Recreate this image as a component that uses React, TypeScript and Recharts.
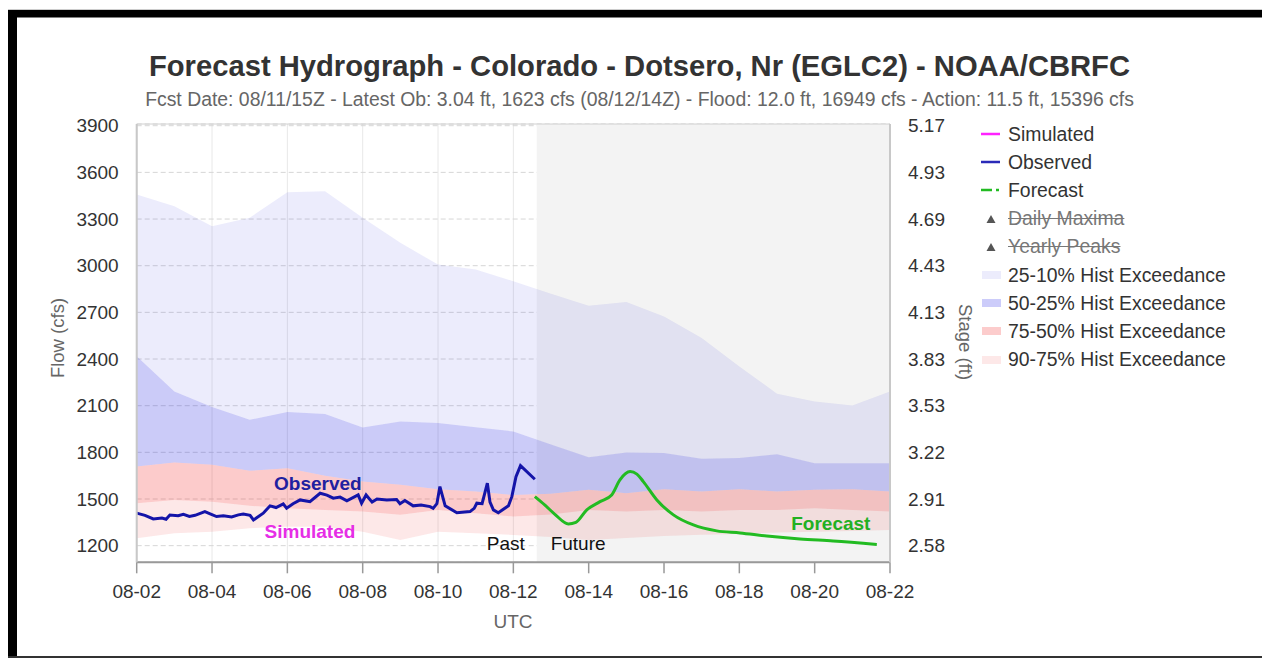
import React from 'react';
import {
  ComposedChart,
  Area,
  Line,
  XAxis,
  YAxis,
  CartesianGrid,
  ReferenceArea,
  ReferenceDot,
  Legend,
} from 'recharts';

// ---------- data ----------
const bandDays = [0, 1, 2, 3, 4, 5, 6, 7, 8, 9, 10, 11, 12, 13, 14, 15, 16, 17, 18, 19, 20];
const exc10 = [3458, 3382, 3254, 3308, 3473, 3479, 3308, 3147, 3007, 2975, 2900, 2820, 2743, 2767, 2674, 2535, 2352, 2177, 2127, 2101, 2191];
const exc25 = [2417, 2191, 2091, 2009, 2059, 2046, 1960, 1998, 1988, 1962, 1934, 1850, 1769, 1799, 1795, 1758, 1763, 1788, 1730, 1730, 1730];
const exc50 = [1709, 1734, 1720, 1681, 1698, 1649, 1612, 1591, 1563, 1548, 1526, 1533, 1559, 1537, 1563, 1548, 1563, 1548, 1559, 1563, 1548];
const exc75 = [1473, 1494, 1483, 1456, 1441, 1430, 1419, 1398, 1430, 1408, 1387, 1400, 1430, 1419, 1430, 1419, 1430, 1430, 1441, 1430, 1419];
const exc90 = [1248, 1280, 1290, 1312, 1322, 1322, 1290, 1237, 1290, 1280, 1269, 1255, 1237, 1250, 1262, 1270, 1275, 1285, 1290, 1295, 1301];

const obsDays = [0.0, 0.22, 0.44, 0.67, 0.78, 0.88, 1.1, 1.24, 1.4, 1.55, 1.81, 1.95, 2.12, 2.3, 2.52, 2.7, 2.83, 3.01, 3.1, 3.36, 3.54, 3.7, 3.89, 3.98, 4.15, 4.34, 4.6, 4.87, 5.05, 5.22, 5.4, 5.58, 5.88, 5.97, 6.09, 6.25, 6.38, 6.64, 6.9, 6.99, 7.12, 7.34, 7.55, 7.79, 7.87, 7.97, 8.05, 8.19, 8.5, 8.85, 8.96, 9.03, 9.17, 9.31, 9.38, 9.47, 9.6, 9.87, 9.96, 10.07, 10.19, 10.57];
const obsFlow = [1409, 1395, 1372, 1378, 1370, 1397, 1392, 1402, 1388, 1395, 1419, 1405, 1387, 1392, 1385, 1398, 1404, 1395, 1365, 1409, 1456, 1445, 1469, 1441, 1470, 1494, 1483, 1537, 1525, 1505, 1512, 1488, 1526, 1473, 1526, 1480, 1500, 1494, 1496, 1470, 1490, 1456, 1462, 1451, 1440, 1470, 1580, 1456, 1412, 1419, 1440, 1473, 1470, 1602, 1480, 1430, 1412, 1456, 1515, 1644, 1715, 1627];

const fcstDays = [10.57, 10.84, 11.11, 11.46, 11.66, 11.95, 12.3, 12.61, 12.83, 13.1, 13.28, 13.45, 13.81, 14.25, 14.78, 15.4, 16.02, 16.73, 17.61, 18.49, 19.65];
const fcstFlow = [1515, 1460, 1400, 1340, 1350, 1430, 1483, 1526, 1623, 1676, 1660, 1612, 1494, 1398, 1333, 1295, 1282, 1262, 1243, 1230, 1208];

const simDays: number[] = [];
const simFlow: number[] = [];

const xTicks = [0, 2, 4, 6, 8, 10, 12, 14, 16, 18, 20];
const xTickLabels = ['08-02', '08-04', '08-06', '08-08', '08-10', '08-12', '08-14', '08-16', '08-18', '08-20', '08-22'];
const flowTicks = [1200, 1500, 1800, 2100, 2400, 2700, 3000, 3300, 3600, 3900];
const stageLabels = ['2.58', '2.91', '3.22', '3.53', '3.83', '4.13', '4.43', '4.69', '4.93', '5.17'];
const flowDomain = [1093, 3911];
const dayDomain = [0, 20];
const forecastStartDay = 10.62;

const annotations = [
  { text: 'Observed', day: 4.81, flow: 1604, color: '#2020a0', weight: 'bold' },
  { text: 'Simulated', day: 4.6, flow: 1290, color: '#e62ee6', weight: 'bold' },
  { text: 'Past', day: 9.8, flow: 1217, color: '#111111', weight: 'normal' },
  { text: 'Future', day: 11.72, flow: 1217, color: '#111111', weight: 'normal' },
  { text: 'Forecast', day: 18.43, flow: 1346, color: '#22b022', weight: 'bold' },
];

const legendItems = [
  { name: 'Simulated', kind: 'line', color: '#ff22ff', hidden: false },
  { name: 'Observed', kind: 'line', color: '#2a2ab8', hidden: false },
  { name: 'Forecast', kind: 'dashdot', color: '#22bb22', hidden: false },
  { name: 'Daily Maxima', kind: 'triangle', color: '#555555', hidden: true },
  { name: 'Yearly Peaks', kind: 'triangle', color: '#555555', hidden: true },
  { name: '25-10% Hist Exceedance', kind: 'rect', color: '#ececfc', hidden: false },
  { name: '50-25% Hist Exceedance', kind: 'rect', color: '#ccccfa', hidden: false },
  { name: '75-50% Hist Exceedance', kind: 'rect', color: '#fccccc', hidden: false },
  { name: '90-75% Hist Exceedance', kind: 'rect', color: '#fde8e8', hidden: false },
];

// ---------- derived tables ----------
const bandRows = bandDays.map((d, i) => ({
  day: d,
  b10: [exc25[i], exc10[i]],
  b25: [exc50[i], exc25[i]],
  b50: [exc75[i], exc50[i]],
  b75: [exc90[i], exc75[i]],
}));
const obsRows = obsDays.map((d, i) => ({ day: d, flow: obsFlow[i] }));
const fcstRows = fcstDays.map((d, i) => ({ day: d, flow: fcstFlow[i] }));
const simRows = simDays.map((d, i) => ({ day: d, flow: simFlow[i] }));

const FONT = '"Liberation Sans", Arial, Helvetica, sans-serif';

const LegendContent = () => (
  <div style={{ fontFamily: FONT, fontSize: 19.4, color: '#333' }}>
    {legendItems.map((it) => (
      <div key={it.name} style={{ display: 'flex', alignItems: 'center', height: 28.2 }}>
        <svg width={33} height={20} style={{ flex: 'none' }}>
          {it.kind === 'line' && <line x1={6} x2={25} y1={10} y2={10} stroke={it.color} strokeWidth={2.5} />}
          {it.kind === 'dashdot' && (
            <g stroke={it.color} strokeWidth={2.5}>
              <line x1={6} x2={17} y1={10} y2={10} />
              <line x1={21} x2={24} y1={10} y2={10} />
            </g>
          )}
          {it.kind === 'triangle' && <polygon points="16,6 20.5,14 11.5,14" fill={it.color} />}
          {it.kind === 'rect' && <rect x={7} y={6} width={19} height={8} fill={it.color} />}
        </svg>
        <span
          style={{
            whiteSpace: 'nowrap',
            color: it.hidden ? '#777' : '#333',
            textDecoration: it.hidden ? 'line-through' : 'none',
          }}
        >
          {it.name}
        </span>
      </div>
    ))}
  </div>
);

export default function App() {
  return (
    <div
      style={{
        position: 'absolute',
        left: 0,
        top: 0,
        width: 1262,
        height: 658,
        background: '#ffffff',
        overflow: 'hidden',
        fontFamily: FONT,
      }}
    >
      <div style={{ position: 'absolute', left: 0, top: 0 }}>
        <ComposedChart
          width={1262}
          height={658}
          data={bandRows}
          margin={{ top: 124, right: 292, bottom: 35.7, left: 16.7 }}
        >
          <ReferenceArea
            yAxisId="flow"
            x1={forecastStartDay}
            x2={dayDomain[1]}
            y1={flowDomain[0]}
            y2={flowDomain[1]}
            fill="#f3f3f3"
            fillOpacity={1}
            stroke="none"
          />
          <CartesianGrid yAxisId="flow" horizontal={false} vertical stroke="#e8e8e8" />
          <CartesianGrid yAxisId="flow" horizontal vertical={false} stroke="#d6d6d6" strokeDasharray="5 3" />
          <XAxis
            type="number"
            dataKey="day"
            domain={dayDomain}
            ticks={xTicks}
            interval={0}
            allowDataOverflow
            tickFormatter={(v: number) => xTickLabels[xTicks.indexOf(v)]}
            height={60}
            tickSize={11}
            tickMargin={11}
            axisLine={{ stroke: '#999', strokeWidth: 2 }}
            tickLine={{ stroke: '#999', strokeWidth: 1.5 }}
            tick={{ fill: '#333', fontSize: 19, fontFamily: FONT }}
          />
          <YAxis
            yAxisId="flow"
            orientation="left"
            type="number"
            domain={flowDomain}
            ticks={flowTicks}
            interval={0}
            allowDataOverflow
            width={120}
            tickSize={8}
            tickMargin={10}
            tickLine={false}
            axisLine={{ stroke: '#c8c8c8', strokeWidth: 2 }}
            tick={{ fill: '#333', fontSize: 19, fontFamily: FONT }}
          />
          <YAxis
            yAxisId="stage"
            orientation="right"
            type="number"
            domain={flowDomain}
            ticks={flowTicks}
            interval={0}
            allowDataOverflow
            width={80}
            tickSize={8}
            tickMargin={10}
            tickLine={false}
            axisLine={{ stroke: '#c8c8c8', strokeWidth: 2 }}
            tickFormatter={(v: number) => stageLabels[flowTicks.indexOf(v)]}
            tick={{ fill: '#333', fontSize: 19, fontFamily: FONT }}
          />
          <Area yAxisId="flow" type="linear" dataKey="b10" name="25-10% Hist Exceedance" stroke="none" fill="#2020e0" fillOpacity={0.085} isAnimationActive={false} dot={false} activeDot={false} />
          <Area yAxisId="flow" type="linear" dataKey="b25" name="50-25% Hist Exceedance" stroke="none" fill="#2020e0" fillOpacity={0.23} isAnimationActive={false} dot={false} activeDot={false} />
          <Area yAxisId="flow" type="linear" dataKey="b50" name="75-50% Hist Exceedance" stroke="none" fill="#f02020" fillOpacity={0.23} isAnimationActive={false} dot={false} activeDot={false} />
          <Area yAxisId="flow" type="linear" dataKey="b75" name="90-75% Hist Exceedance" stroke="none" fill="#f02020" fillOpacity={0.1} isAnimationActive={false} dot={false} activeDot={false} />
          <ReferenceArea
            yAxisId="flow"
            x1={dayDomain[0]}
            x2={dayDomain[1]}
            y1={flowDomain[0]}
            y2={flowDomain[1]}
            fill="none"
            stroke="#d0d0d0"
            strokeWidth={1}
          />
          <Line yAxisId="flow" data={simRows} dataKey="flow" name="Simulated" stroke="#ff22ff" strokeWidth={3} dot={false} activeDot={false} isAnimationActive={false} />
          <Line yAxisId="flow" data={obsRows} dataKey="flow" name="Observed" type="linear" stroke="#1414a8" strokeWidth={3} dot={false} activeDot={false} isAnimationActive={false} />
          <Line yAxisId="flow" data={fcstRows} dataKey="flow" name="Forecast" type="monotone" stroke="#22bb22" strokeWidth={3} dot={false} activeDot={false} isAnimationActive={false} />
          {annotations.map((a) => (
            <ReferenceDot
              key={a.text}
              yAxisId="flow"
              x={a.day}
              y={a.flow}
              r={0}
              fill="none"
              stroke="none"
              label={{
                value: a.text,
                position: 'center',
                fill: a.color,
                fontSize: 19,
                fontWeight: a.weight,
                fontFamily: FONT,
              }}
            />
          ))}
          <Legend
            layout="horizontal"
            verticalAlign="middle"
            align="center"
            content={() => <LegendContent />}
            wrapperStyle={{ left: 975, top: 120, width: 285, height: 260 }}
          />
        </ComposedChart>
      </div>
      <svg
        width={1262}
        height={658}
        style={{ position: 'absolute', left: 0, top: 0, pointerEvents: 'none' }}
      >
        <rect x={8} y={9} width={1254} height={1} fill="#cccccc" />
        <rect x={8} y={10} width={1254} height={7.5} fill="#000" />
        <rect x={8} y={10} width={9} height={648} fill="#000" />
        <rect x={8} y={656} width={1254} height={2} fill="#333" />
        <text x={639.5} y={66} textAnchor="middle" dominantBaseline="central" fontSize={29.2} fontWeight="bold" fill="#333" fontFamily={FONT}>
          Forecast Hydrograph - Colorado - Dotsero, Nr (EGLC2) - NOAA/CBRFC
        </text>
        <text x={639.5} y={99} textAnchor="middle" dominantBaseline="central" fontSize={19.4} fill="#666" fontFamily={FONT}>
          Fcst Date: 08/11/15Z - Latest Ob: 3.04 ft, 1623 cfs (08/12/14Z) - Flood: 12.0 ft, 16949 cfs - Action: 11.5 ft, 15396 cfs
        </text>
        <text x={57} y={338} textAnchor="middle" dominantBaseline="central" fontSize={18.5} fill="#666" fontFamily={FONT} transform="rotate(-90 57 338)">
          Flow (cfs)
        </text>
        <text x={965.5} y={342} textAnchor="middle" dominantBaseline="central" fontSize={18.5} fill="#666" fontFamily={FONT} transform="rotate(90 965.5 342)">
          Stage (ft)
        </text>
        <text x={513} y={621} textAnchor="middle" dominantBaseline="central" fontSize={19} fill="#666" fontFamily={FONT}>
          UTC
        </text>
      </svg>
    </div>
  );
}
